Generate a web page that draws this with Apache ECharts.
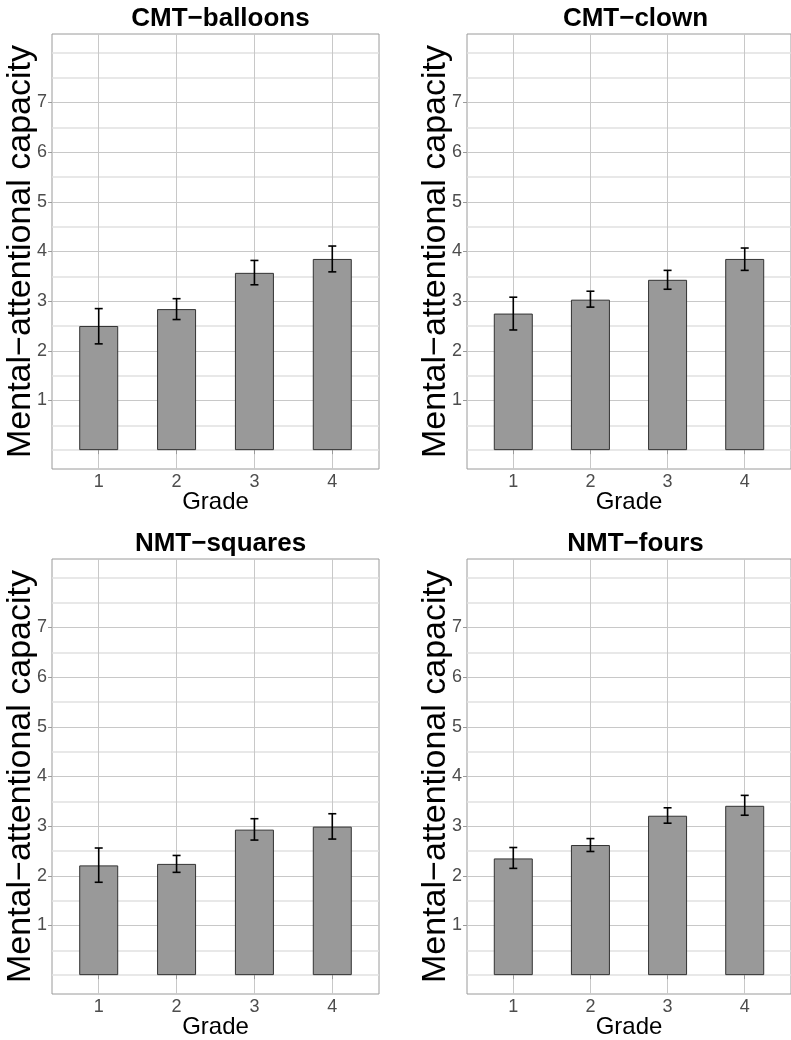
<!DOCTYPE html>
<html lang="en" style="height: 100%">

<head>
  <meta charset="UTF-8" />
  <title>Mental-attentional capacity by grade</title>
  <script src="https://cdn.jsdelivr.net/npm/echarts@6.0.0/dist/echarts.min.js"></script>
</head>

<body style="height: 100%; margin: 0; background: #fff">
  <div id="container" style="width: 791px; height: 1040px"></div>
  <script type="text/javascript">
    // values
    var grades = [1, 2, 3, 4];
    var panelTitles = ["CMT−balloons", "CMT−clown", "NMT−squares", "NMT−fours"];

    var balloonsMean = [2.50, 2.84, 3.57, 3.85];
    var balloonsLow = [2.14, 2.63, 3.33, 3.59];
    var balloonsHigh = [2.85, 3.05, 3.82, 4.11];

    var clownMean = [2.75, 3.03, 3.43, 3.85];
    var clownLow = [2.42, 2.88, 3.24, 3.62];
    var clownHigh = [3.08, 3.20, 3.62, 4.07];

    var squaresMean = [2.21, 2.24, 2.93, 2.99];
    var squaresLow = [1.87, 2.07, 2.72, 2.74];
    var squaresHigh = [2.56, 2.41, 3.15, 3.25];

    var foursMean = [2.35, 2.62, 3.21, 3.41];
    var foursLow = [2.15, 2.49, 3.06, 3.22];
    var foursHigh = [2.57, 2.75, 3.37, 3.62];

    var yTickLabels = [1, 2, 3, 4, 5, 6, 7];
    var yMinorLines = [0, 0.5, 1.5, 2.5, 3.5, 4.5, 5.5, 6.5, 7.5, 8];

    var means = [balloonsMean, clownMean, squaresMean, foursMean];
    var lows = [balloonsLow, clownLow, squaresLow, foursLow];
    var highs = [balloonsHigh, clownHigh, squaresHigh, foursHigh];

    // panel boxes (left, top) in px
    var boxes = [
      { left: 52, top: 34 },
      { left: 467, top: 34 },
      { left: 52, top: 559 },
      { left: 467, top: 559 }
    ];
    var boxW = 327, boxH = 435;

    var dom = document.getElementById("container");
    var myChart = echarts.init(dom, null, { renderer: "canvas" });

    var grid = [], xAxis = [], yAxis = [], series = [], title = [];

    boxes.forEach(function (b, i) {
      grid.push({
        left: b.left, top: b.top, width: boxW, height: boxH,
        show: true, borderColor: "#9a9a9a", borderWidth: 1, backgroundColor: "#fff"
      });
      title.push({
        text: panelTitles[i],
        left: b.left + boxW / 2,
        top: b.top - 33,
        textAlign: "center",
        textStyle: { fontFamily: "Liberation Sans", fontSize: 26, fontWeight: "bold", color: "#000" }
      });
      xAxis.push({
        type: "value", gridIndex: i, min: 0.4, max: 4.6,
        name: "Grade", nameLocation: "middle", nameGap: 21, nameMoveOverlap: false,
        nameTextStyle: { fontFamily: "Liberation Sans", fontSize: 24, color: "#000" },
        axisLine: { show: false },
        axisTick: { show: true, length: 4, customValues: grades, lineStyle: { color: "#9a9a9a" } },
        axisLabel: { customValues: grades, margin: 4, fontFamily: "Liberation Sans", fontSize: 18, color: "#4d4d4d" },
        splitLine: { show: true, lineStyle: { color: "#c8c8c8", width: 1 } }
      });
      // major y axis
      yAxis.push({
        type: "value", gridIndex: i, min: -0.38, max: 8.38,
        name: "Mental−attentional capacity", nameLocation: "middle", nameRotate: 90,
        nameGap: 14, nameMoveOverlap: false,
        nameTextStyle: { fontFamily: "Liberation Sans", fontSize: 34, color: "#000" },
        axisLine: { show: false },
        axisTick: { show: true, length: 4, customValues: yTickLabels, lineStyle: { color: "#9a9a9a" } },
        axisLabel: { customValues: yTickLabels, margin: 5, fontFamily: "Liberation Sans", fontSize: 18, color: "#4d4d4d" },
        splitLine: { show: true, lineStyle: { color: "#c8c8c8", width: 1 } }
      });
      // minor grid lines
      yAxis.push({
        type: "value", gridIndex: i, min: -0.38, max: 8.38,
        axisLine: { show: false },
        axisTick: { show: false, customValues: yMinorLines },
        axisLabel: { show: false },
        splitLine: { show: true, lineStyle: { color: "#e0e0e0", width: 1.5 } }
      });

      series.push({
        type: "bar",
        xAxisIndex: i, yAxisIndex: i * 2,
        barWidth: 39,
        itemStyle: { color: "#999999", borderColor: "#333", borderWidth: 1 },
        data: grades.map(function (g, k) { return [g, means[i][k]]; })
      });
      series.push({
        type: "custom",
        xAxisIndex: i, yAxisIndex: i * 2,
        z: 5,
        data: grades.map(function (g, k) { return [g, lows[i][k], highs[i][k]]; }),
        renderItem: function (params, api) {
          var lo = api.coord([api.value(0), api.value(1)]);
          var hi = api.coord([api.value(0), api.value(2)]);
          var cap = 4;
          var st = { stroke: "#000", lineWidth: 1.6 };
          return {
            type: "group",
            children: [
              { type: "line", shape: { x1: lo[0], y1: lo[1], x2: hi[0], y2: hi[1] }, style: st },
              { type: "line", shape: { x1: lo[0] - cap, y1: lo[1], x2: lo[0] + cap, y2: lo[1] }, style: st },
              { type: "line", shape: { x1: hi[0] - cap, y1: hi[1], x2: hi[0] + cap, y2: hi[1] }, style: st }
            ]
          };
        }
      });
    });

    var option = {
      animation: false,
      backgroundColor: "#fff",
      title: title,
      grid: grid,
      xAxis: xAxis,
      yAxis: yAxis,
      series: series
    };
    myChart.setOption(option);
    window.addEventListener("resize", myChart.resize);
  </script>
</body>

</html>
